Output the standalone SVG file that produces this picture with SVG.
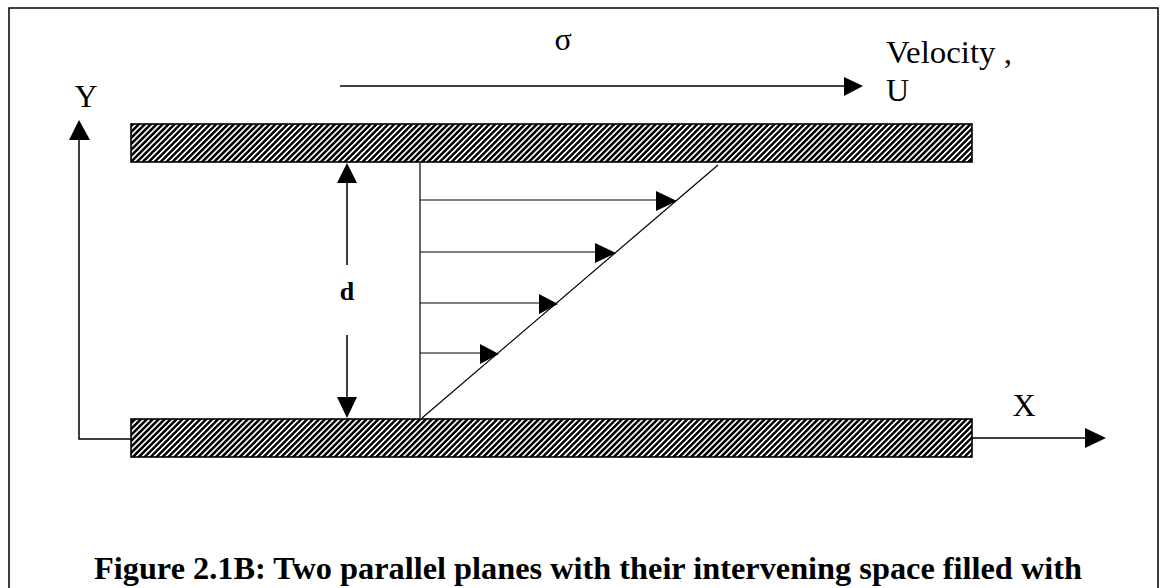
<svg xmlns="http://www.w3.org/2000/svg" width="1163" height="588" viewBox="0 0 1163 588">
<style>
.ln{stroke:#000;stroke-width:1.5;fill:none}
.thin{stroke:#000;stroke-width:1.2;fill:none}
.plate{fill:url(#hatch);stroke:#000;stroke-width:1.6}
.lbl{font-family:"Liberation Serif","Times New Roman",serif;font-size:32px;fill:#000}
.cap{font-family:"Liberation Serif","Times New Roman",serif;font-size:31px;font-weight:bold;fill:#000}
.hd{fill:#000}
</style>
<defs>
<pattern id="hatch" patternUnits="userSpaceOnUse" width="4.2" height="10" patternTransform="rotate(45)">
<rect x="0" y="0" width="4.2" height="10" fill="#fff"/>
<rect x="0" y="0" width="2.5" height="10" fill="#000"/>
</pattern>
</defs>
<rect x="0" y="0" width="1163" height="588" fill="#fff"/>
<path class="ln" d="M9,600 V8 H1158 V600"/>
<g id="top-plate"><rect class="plate" x="131" y="124" width="841" height="38"/></g>
<g id="bottom-plate"><rect class="plate" x="131" y="419" width="841" height="38"/></g>
<g id="labels">
<text class="lbl" x="86" y="107" text-anchor="middle">Y</text>
<text class="lbl" x="1024" y="416" text-anchor="middle">X</text>
<text class="lbl" x="563" y="50" text-anchor="middle">σ</text>
<text class="lbl" x="886" y="63" textLength="126" lengthAdjust="spacingAndGlyphs">Velocity ,</text>
<text class="lbl" x="886" y="101">U</text>
<text class="lbl" x="347" y="300" text-anchor="middle" style="font-weight:bold;font-size:26px">d</text>
<text class="cap" x="94" y="579" textLength="988" lengthAdjust="spacingAndGlyphs">Figure 2.1B: Two parallel planes with their intervening space filled with</text>
</g>
<g id="connectors">
<path class="ln" d="M79,140 V439 H131"/>
<polygon class="hd" points="79,120 69,140 90,140"/>
<path class="ln" d="M972,438 H1086"/>
<polygon class="hd" points="1106,438 1085,428 1085,448"/>
<path class="ln" d="M340,86 H845"/>
<polygon class="hd" points="863,86 844,77 844,96"/>
<path class="ln" d="M347,182 V265 M347,335 V398"/>
<polygon class="hd" points="347,163 337,183 357,183"/>
<polygon class="hd" points="347,418 337,397 357,397"/>
<path class="thin" d="M420,163 V418"/>
<path class="thin" d="M422,418 L718,165"/>
<path class="thin" d="M420,200 H657 M420,252 H597 M420,303 H542 M420,353 H482"/>
<polygon class="hd" points="677,201 656,191 656,211"/>
<polygon class="hd" points="616,253 595,243 595,263"/>
<polygon class="hd" points="558,304 539,294 539,314"/>
<polygon class="hd" points="499,354 480,344 480,364"/>
</g>
</svg>
